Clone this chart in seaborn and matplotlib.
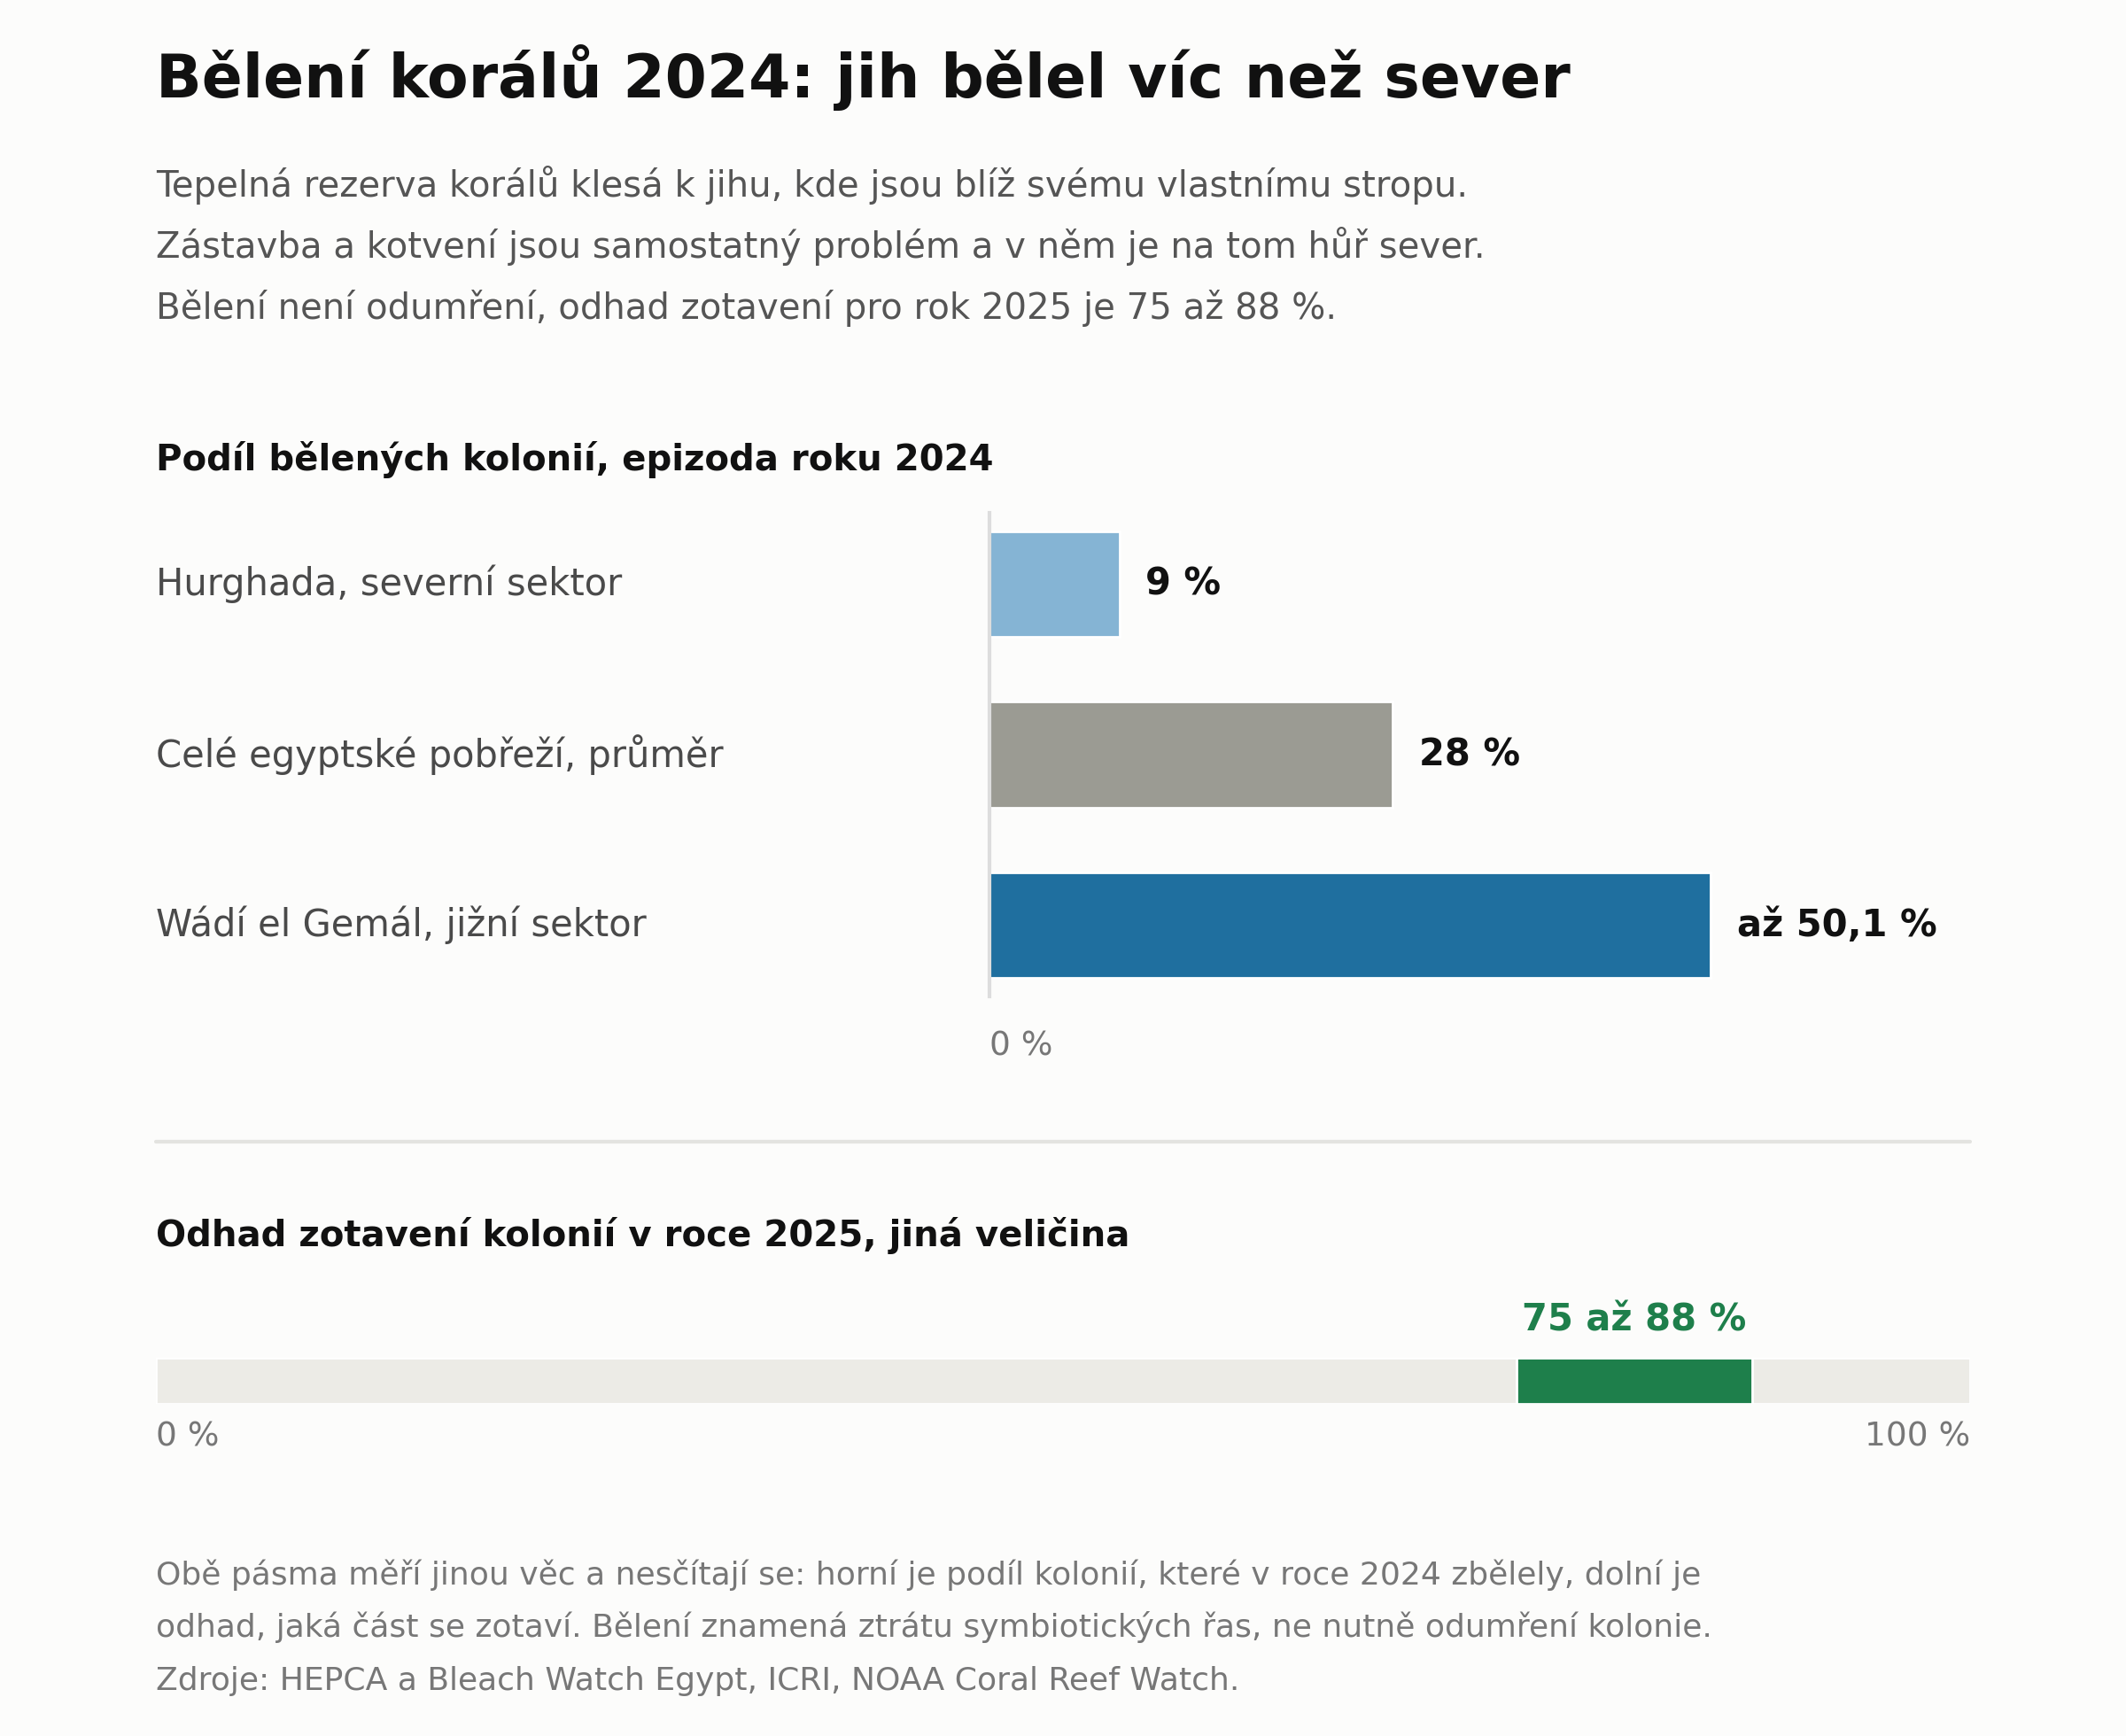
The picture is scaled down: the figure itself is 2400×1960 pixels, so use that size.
import matplotlib
matplotlib.use('Agg')
import matplotlib.pyplot as plt
import pandas as pd
import seaborn as sns

# data
regions = ['Hurghada, severní sektor', 'Celé egyptské pobřeží, průměr', 'Wádí el Gemál, jižní sektor']
bleached = [9, 28, 50.1]
value_labels = ['9 %', '28 %', 'až 50,1 %']
bar_colors = ['#85b4d4', '#9b9b93', '#1f6f9f']
recovery_low, recovery_high = 75, 88

sns.set_theme(style='white')
plt.rcParams['font.family'] = ['DejaVu Sans']

W, H = 1568, 1280  # layout grid in reference pixels
bg = '#fcfcfb'
fig = plt.figure(figsize=(12, 9.8), dpi=200, facecolor=bg)


def fx(x):
    return x / W


def fy(y):
    return 1 - y / H


fig.text(fx(115), fy(72), 'Bělení korálů 2024: jih bělel víc než sever', fontsize=24.5,
         fontweight='bold', color='#111111', va='baseline')
subtitle = ['Tepelná rezerva korálů klesá k jihu, kde jsou blíž svému vlastnímu stropu.',
            'Zástavba a kotvení jsou samostatný problém a v něm je na tom hůř sever.',
            'Bělení není odumření, odhad zotavení pro rok 2025 je 75 až 88 %.']
for i, line in enumerate(subtitle):
    fig.text(fx(115), fy(145 + i * 45), line, fontsize=14.5, color='#555555', va='baseline')

fig.text(fx(115), fy(347), 'Podíl bělených kolonií, epizoda roku 2024', fontsize=14.5,
         fontweight='bold', color='#111111', va='baseline')

# top bar chart
ax = fig.add_axes([fx(730), fy(735), fx(1453 - 730), (735 - 378) / H])
ax.set_facecolor('none')
df = pd.DataFrame({'region': regions, 'value': bleached})
sns.barplot(data=df, y='region', x='value', hue='region', palette=bar_colors,
            width=0.62, legend=False, ax=ax, saturation=1)
ax.set_xlim(0, 68.1)
ax.set_ylim(2.42, -0.42)
for i, (v, lab) in enumerate(zip(bleached, value_labels)):
    ax.text(v + 1.8, i, lab, va='center', ha='left', fontsize=15, fontweight='bold', color='#111111')
    fig.text(fx(115), fy(0), '')  # placeholder no-op
for i, r in enumerate(regions):
    ax.text(-(730 - 115) / (1453 - 730) * 68.1, i, r, va='center', ha='left', fontsize=15, color='#4a4a4a')
ax.set_yticks([])
ax.set_xticks([])
ax.set_xlabel('')
ax.set_ylabel('')
for s in ['top', 'right', 'bottom']:
    ax.spines[s].set_visible(False)
ax.spines['left'].set_color('#dddddd')
ax.spines['left'].set_linewidth(1.5)
fig.text(fx(730), fy(778), '0 %', fontsize=13.5, color='#777777', va='baseline')

# separator
fig.add_artist(plt.Line2D([fx(115), fx(1453)], [fy(842), fy(842)], color='#e3e3e0', lw=1.5))

fig.text(fx(115), fy(919), 'Odhad zotavení kolonií v roce 2025, jiná veličina', fontsize=14.5,
         fontweight='bold', color='#111111', va='baseline')

# range bar
ax2 = fig.add_axes([fx(115), fy(1035), fx(1453 - 115), 34 / H])
ax2.barh([0], [100], left=0, height=1, color='#ecebe6')
ax2.barh([0], [recovery_high - recovery_low], left=recovery_low, height=1, color='#1e7f4b')
ax2.set_xlim(0, 100)
ax2.set_ylim(-0.5, 0.5)
ax2.axis('off')
ax2.text((recovery_low + recovery_high) / 2, 0.9, f'{recovery_low} až {recovery_high} %',
         ha='center', va='bottom', fontsize=15, fontweight='bold', color='#1e7f4b')
fig.text(fx(115), fy(1066), '0 %', fontsize=13.5, color='#777777', va='baseline')
fig.text(fx(1453), fy(1066), '100 %', fontsize=13.5, color='#777777', va='baseline', ha='right')

footer = ['Obě pásma měří jinou věc a nesčítají se: horní je podíl kolonií, které v roce 2024 zbělely, dolní je',
          'odhad, jaká část se zotaví. Bělení znamená ztrátu symbiotických řas, ne nutně odumření kolonie.',
          'Zdroje: HEPCA a Bleach Watch Egypt, ICRI, NOAA Coral Reef Watch.']
for i, line in enumerate(footer):
    fig.text(fx(115), fy(1168 + i * 39), line, fontsize=13, color='#777777', va='baseline')

fig.savefig('out.png', dpi=200, facecolor=bg)
